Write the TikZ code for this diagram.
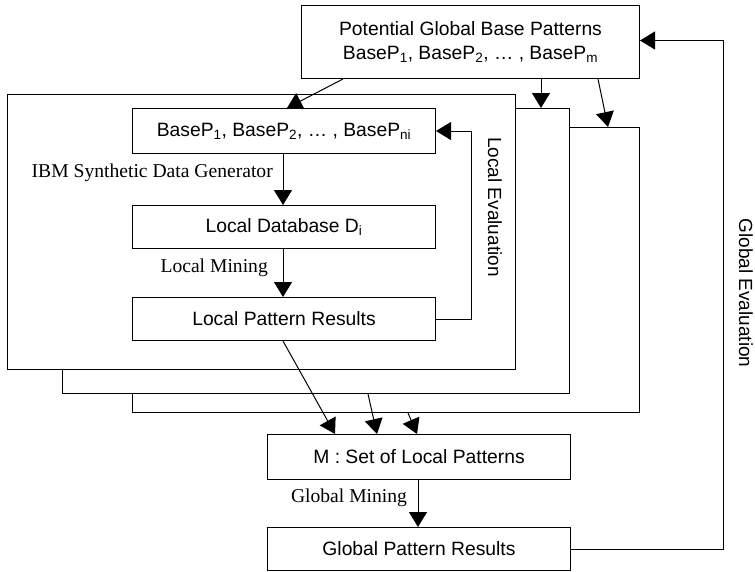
\documentclass[tikz,border=0pt]{standalone}
\usepackage{fontspec}
\setmainfont{Liberation Serif}
\setsansfont{Liberation Sans}
\usetikzlibrary{arrows.meta,calc}
\begin{document}
\begin{tikzpicture}[x=1pt,y=-1pt,
  box/.style={draw,line width=1pt,fill=white,inner sep=0pt,anchor=north west,font=\sffamily\fontsize{19.3}{24}\selectfont,align=center},
  frame/.style={draw,line width=1pt,fill=white,inner sep=0pt,anchor=north west},
  arr/.style={line width=1pt,-{Triangle[length=15pt,width=18pt]}},
  lbl/.style={font=\fontsize{19.6}{22}\selectfont,inner sep=0pt},
  vlbl/.style={font=\sffamily\fontsize{19}{22}\selectfont,inner sep=0pt,rotate=-90}]
\useasboundingbox (0,0) rectangle (755,571);
% stacked frames
\node[frame,minimum width=507pt,minimum height=285pt] (f3) at (132,127) {};
\node[frame,minimum width=507pt,minimum height=285pt] (f2) at (62,108) {};
\node[frame,minimum width=508pt,minimum height=275pt] (f1) at (7,94) {};
% boxes
\node[box,minimum width=338pt,minimum height=73pt] (top) at (301,5)
  {Potential Global Base Patterns\\BaseP\textsubscript{1}, BaseP\textsubscript{2}, \dots\ , BaseP\textsubscript{m}};
\node[box,minimum width=303pt,minimum height=45pt] (bp) at (132,108)
  {BaseP\textsubscript{1}, BaseP\textsubscript{2}, \dots\ , BaseP\textsubscript{ni}};
\node[box,minimum width=303pt,minimum height=43pt] (ldb) at (132,205)
  {Local Database D\textsubscript{i}};
\node[box,minimum width=303pt,minimum height=43pt] (lpr) at (132,297)
  {Local Pattern Results};
\node[box,minimum width=303pt,minimum height=45pt] (m) at (267,434)
  {M : Set of Local Patterns};
\node[box,minimum width=303pt,minimum height=43pt] (gpr) at (267,527)
  {Global Pattern Results};
% labels
\node[lbl,anchor=east] (l1) at (273,173) {IBM Synthetic Data Generator};
\node[lbl,anchor=east] (l2) at (268,268) {Local Mining};
\node[lbl] (l3) at (349,498) {Global Mining};
\node[vlbl] (l4) at (495,207) {Local Evaluation};
\node[vlbl] (l5) at (746,293) {Global Evaluation};
% arrows from top box
\draw[arr] ([xshift=42pt]top.south west) -- ([xshift=155pt]bp.north west);
\draw[arr] ([xshift=240pt]top.south west) -- ([xshift=479pt]f2.north west);
\draw[arr] ([xshift=297pt]top.south west) -- ([xshift=476pt]f3.north west);
% inner flow
\draw[arr] ([xshift=151pt]bp.south west) -- ([xshift=151pt]ldb.north west);
\draw[arr] ([xshift=151pt]ldb.south west) -- ([xshift=151pt]lpr.north west);
\draw[arr] (lpr.east) -- ++(35,0) |- (bp.east);
% to M
\draw[arr] ([xshift=151pt]lpr.south west) -- ([xshift=68pt]m.north west);
\draw[arr] ([xshift=306pt]f2.south west) -- ([xshift=110pt]m.north west);
\draw[arr] ([xshift=276pt]f3.south west) -- ([xshift=150pt]m.north west);
\draw[arr] ([xshift=151pt]m.south west) -- ([xshift=151pt]gpr.north west);
% global evaluation
\draw[arr] (gpr.east) -- ++(152,0) |- ([yshift=1.5pt]top.east);
\end{tikzpicture}
\end{document}
